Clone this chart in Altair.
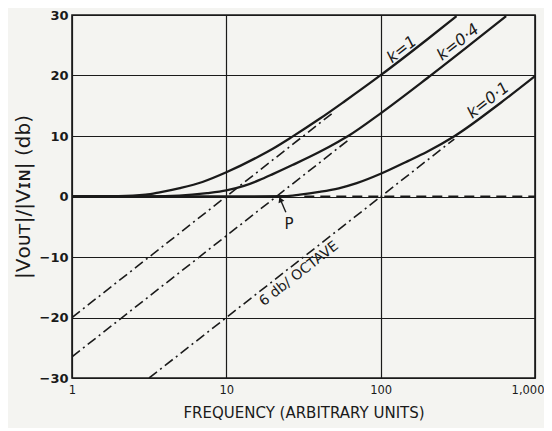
import altair as alt
import pandas as pd

# --- data ---
k1_f = [1, 2, 3, 3.7, 5, 7, 10, 16.3, 20, 26.8, 40, 58.5, 100, 200, 310]
k1_db = [0, 0.05, 0.3, 0.7, 1.4, 2.4, 4.0, 6.65, 7.9, 9.9, 12.8, 15.75, 20.05, 25.95, 29.8]

k04_f = [1, 3, 4, 6, 7.5, 10, 13, 16.3, 20, 26.8, 40, 53.5, 62, 100, 200, 400, 650]
k04_db = [0, 0, 0.05, 0.3, 0.55, 1.0, 1.75, 2.7, 3.7, 5.2, 7.35, 9.1, 10.05, 13.75, 19.55, 25.55, 29.8]

k01_f = [1, 10, 24, 30, 40, 53.5, 70, 100, 150, 200, 302, 600, 1000]
k01_db = [0, 0, 0.05, 0.3, 0.75, 1.35, 2.2, 3.75, 5.85, 7.4, 10.0, 15.5, 19.9]

asym1_f = [1, 50]
asym1_db = [-20, 14.0]
asym2_f = [1, 63]
asym2_db = [-26.5, 9.5]
asym3_f = [3.16, 300]
asym3_db = [-30, 9.5]

dash_f = [32, 1000]
dash_db = [0, 0]

label_text = ["k=1", "k=0·4", "k=0·1"]
label_f = [137, 317, 497]
label_db = [24.3, 25.5, 15.9]

octave_text = ["6 db/ OCTAVE"]
octave_f = [29.6]
octave_db = [-12.8]

p_text = ["P"]
p_f = [25.5]
p_db = [-4.6]

arrow_f = [24.3, 22.4]
arrow_db = [-2.6, -0.5]

x_ticks = [1, 10, 100, 1000]
y_ticks = [-30, -20, -10, 0, 10, 20, 30]

INK = "#1a1a1a"
FONT = "DejaVu Sans"


def frame(fs, dbs, name):
    return pd.DataFrame({"f": fs, "db": dbs, "s": name})


curves = pd.concat([
    frame(k1_f, k1_db, "k1"),
    frame(k04_f, k04_db, "k04"),
    frame(k01_f, k01_db, "k01"),
])
asym = pd.concat([
    frame(asym1_f, asym1_db, "a1"),
    frame(asym2_f, asym2_db, "a2"),
    frame(asym3_f, asym3_db, "a3"),
])
dashed = frame(dash_f, dash_db, "d")
labels = pd.DataFrame({"f": label_f, "db": label_db, "t": label_text})
octave = pd.DataFrame({"f": octave_f, "db": octave_db, "t": octave_text})
pdf = pd.DataFrame({"f": p_f, "db": p_db, "t": p_text})
arrow = frame(arrow_f, arrow_db, "arrow")
tip = arrow.iloc[[1]]

x = alt.X("f:Q", scale=alt.Scale(type="log", domain=[1, 1000], nice=False),
          axis=alt.Axis(values=x_ticks, format=",", title="FREQUENCY (ARBITRARY UNITS)",
                        grid=True, gridColor=INK, gridWidth=1.2, gridOpacity=1,
                        domain=False, ticks=False, labelPadding=6,
                        labelFont=FONT, labelFontSize=11.5, labelColor=INK,
                        labelAlign=alt.expr("datum.value >= 1000 ? 'right' : 'center'"),
                        labelOffset=alt.expr("datum.value >= 1000 ? 9 : 0"),
                        titleFont=FONT, titleFontSize=15, titleFontWeight="normal",
                        titleColor=INK, titlePadding=10,
                        labelFlush=False, labelBound=False))
y = alt.Y("db:Q", scale=alt.Scale(domain=[-30, 30], nice=False),
          axis=alt.Axis(values=y_ticks, title="|Vᴏᴜᴛ|/|Vɪɴ| (db)",
                        grid=True, gridColor=INK, gridWidth=1.2, gridOpacity=1,
                        domain=False, ticks=False, labelPadding=4,
                        labelFont=FONT, labelFontSize=13, labelColor=INK,
                        labelFontWeight="bold",
                        titleFont=FONT, titleFontSize=20, titleFontWeight="normal",
                        titleColor=INK, titlePadding=6))

base_curves = alt.Chart(curves).mark_line(color=INK, strokeWidth=2.3, clip=True,
                                          interpolate="monotone").encode(
    x=x, y=y, detail="s:N", order="f:Q")

asym_layer = alt.Chart(asym).mark_line(color=INK, strokeWidth=1.6, strokeDash=[10, 4, 2, 4],
                                       clip=True).encode(
    x="f:Q", y="db:Q", detail="s:N", order="f:Q")

dash_layer = alt.Chart(dashed).mark_line(color=INK, strokeWidth=1.8, strokeDash=[10, 6]).encode(
    x="f:Q", y="db:Q")

label_layer = alt.Chart(labels).mark_text(font=FONT, fontSize=16, angle=322, color=INK,
                                          fontStyle="italic").encode(
    x="f:Q", y="db:Q", text="t:N")

octave_layer = alt.Chart(octave).mark_text(font=FONT, fontSize=14, angle=322, color=INK).encode(
    x="f:Q", y="db:Q", text="t:N")

p_layer = alt.Chart(pdf).mark_text(font=FONT, fontSize=15, color=INK).encode(
    x="f:Q", y="db:Q", text="t:N")

arrow_line = alt.Chart(arrow).mark_line(color=INK, strokeWidth=1.4).encode(
    x="f:Q", y="db:Q", order="f:Q")
arrow_head = alt.Chart(tip).mark_point(shape="triangle-up", filled=True, size=40, angle=337,
                                       color=INK, opacity=1).encode(x="f:Q", y="db:Q")

chart = alt.layer(
    asym_layer, dash_layer, base_curves, label_layer, octave_layer, p_layer,
    arrow_line, arrow_head
).properties(
    width=463, height=363,
    background="#f4f4f1",
    padding={"left": 64, "top": 7, "right": 9, "bottom": 50},
    autosize=alt.AutoSizeParams(type="none"),
).configure_view(stroke=INK, strokeWidth=1.6)

chart.save("out.html", embed_options={"renderer": "svg", "actions": False})
